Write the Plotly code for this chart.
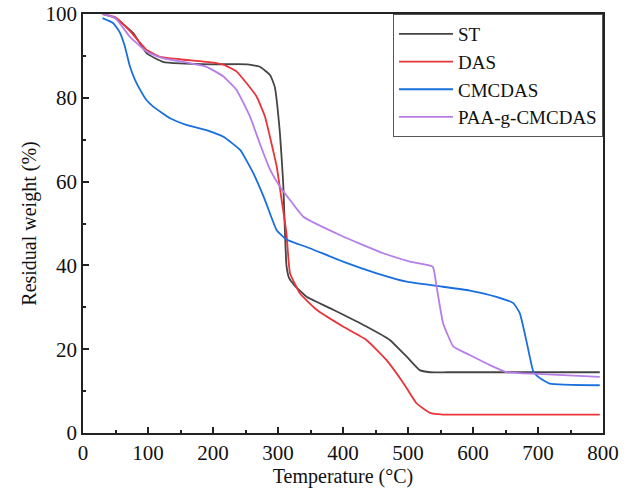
import plotly.graph_objects as go

# ---- data ----
st_t = [30, 50, 77, 98, 123, 149, 200, 252, 272, 288, 295, 303, 308, 313, 317, 325, 344, 385, 436, 472, 498, 518, 534, 560, 650, 795]
st_w = [100, 99, 95.5, 90.6, 88.6, 88.2, 88.0, 88.0, 87.4, 85.4, 82.6, 71.5, 59.6, 40, 37, 35.3, 32.5, 29.4, 25.4, 22.2, 18.2, 15, 14.5, 14.5, 14.5, 14.5]

das_t = [30, 50, 72, 98, 118, 149, 200, 216, 236, 252, 267, 280, 290, 298, 305.6, 313, 318.5, 334, 359.5, 400, 436, 467, 493, 513, 534, 554, 650, 795]
das_w = [100, 99.2, 96, 91.4, 89.8, 89.2, 88.4, 87.9, 86.3, 83.4, 80.3, 75.5, 69.1, 63.6, 55.6, 47.7, 38.1, 33.3, 29.4, 25.4, 22.2, 17.4, 11.9, 7.1, 4.8, 4.4, 4.4, 4.4]

cm_t = [30, 46.6, 56, 64, 72, 80, 88, 97, 108, 134, 160, 190, 216, 242, 262, 280, 298, 313, 349, 400, 452, 498, 544, 595, 636, 662, 672, 683, 693, 703, 718, 795]
cm_w = [99, 97.8, 95.8, 92.5, 87.6, 84.3, 81.9, 79.6, 77.9, 75.1, 73.5, 72.3, 70.7, 67.5, 62, 55.6, 48.4, 46.2, 44.1, 40.9, 38.1, 36.1, 35.1, 34, 32.5, 31, 28.6, 21.4, 14.6, 13.1, 11.8, 11.4]

paa_t = [30, 50, 72, 98, 124, 160, 190, 216, 236, 257, 272, 288, 303, 318.5, 339, 400, 462, 503, 538, 544, 554, 570, 595, 626, 652, 698, 795]
paa_w = [100, 99, 94.6, 91, 89.4, 88.4, 87.4, 85.1, 81.9, 75.5, 69.1, 62.8, 58.8, 55.6, 51.6, 46.9, 42.9, 40.9, 39.7, 34.9, 26.2, 20.6, 18.6, 16.2, 14.5, 14.1, 13.4]

names = ["ST", "DAS", "CMCDAS", "PAA-g-CMCDAS"]
colors = ["#454545", "#e8343a", "#1a6fdf", "#b77ee8"]

x_ticks = [0, 100, 200, 300, 400, 500, 600, 700, 800]
y_ticks = [0, 20, 40, 60, 80, 100]

series = [(st_t, st_w), (das_t, das_w), (cm_t, cm_w), (paa_t, paa_w)]

fig = go.Figure()
for (t, w), n, c in zip(series, names, colors):
    fig.add_trace(go.Scatter(x=t, y=w, mode="lines", name=n,
                             line=dict(color=c, width=1.8, shape="spline", smoothing=0.4)))

fam = "Liberation Serif, Times New Roman, serif"
tick_font = dict(family=fam, size=21, color="#111111")
title_font = dict(family=fam, size=20, color="#111111")
legend_font = dict(family=fam, size=19, color="#111111")

axis_common = dict(showgrid=False, zeroline=False, showline=True, linecolor="#222222",
                   linewidth=1.5, mirror=True, ticks="inside", ticklen=6, tickwidth=1.5,
                   tickcolor="#222222", tickfont=tick_font, automargin=False)

fig.update_layout(
    width=634, height=495,
    margin=dict(l=83, r=31, t=14, b=62),
    paper_bgcolor="white", plot_bgcolor="white",
    font=tick_font,
    xaxis=dict(range=[0, 800], tickvals=x_ticks,
               minor=dict(dtick=50, ticks="inside", ticklen=3, tickwidth=1.5, tickcolor="#222222"),
               title=dict(text="Temperature (°C)", font=title_font, standoff=2), **axis_common),
    yaxis=dict(range=[0, 100], tickvals=y_ticks,
               minor=dict(dtick=10, ticks="inside", ticklen=3, tickwidth=1.5, tickcolor="#222222"),
               title=dict(text="Residual weight (%)", font=title_font, standoff=4), **axis_common),
    legend=dict(x=1, y=1, xanchor="right", yanchor="top", bgcolor="white",
                bordercolor="#555555", borderwidth=1, font=legend_font, itemwidth=54,
                tracegroupgap=0),
    showlegend=True,
)

fig.write_html("out.html")
